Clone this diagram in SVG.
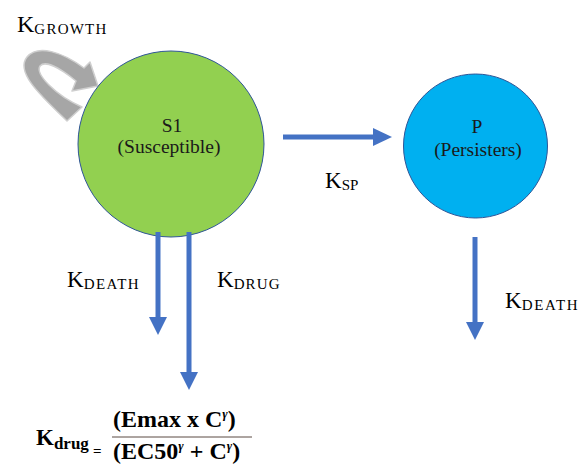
<svg xmlns="http://www.w3.org/2000/svg" width="579" height="465" viewBox="0 0 579 465">
<style>
.lbl{font-family:"Liberation Serif","Times New Roman",serif;fill:#000}
.node{font-family:"Liberation Serif","Times New Roman",serif;font-size:19.5px;fill:#1a1a1a;text-anchor:middle}
.shaft{stroke:#4472c4;stroke-width:5;fill:none}
.head{fill:#4472c4}
.f{font-family:"Liberation Serif","Times New Roman",serif;font-weight:bold;fill:#000}
</style>
<rect width="579" height="465" fill="#fff"/>
<g id="growth-arrow">
<path d="M67,121 C40,95 15,72 27,57 C38,44 62,52 84,68 L90,62 L98,86 L72,91 L76,81 C60,68 45,60 40,66 C35,74 55,95 82,107 Z" fill="#a6a6a6" stroke="#cfcfcf" stroke-width="1.5" stroke-linejoin="round"/>
</g>
<g id="S1">
<circle cx="171" cy="144" r="93" fill="#92d050" stroke="#2f5597" stroke-width="1"/>
<text class="node" x="172" y="132">S1</text>
<text class="node" x="169" y="153">(Susceptible)</text>
</g>
<g id="P">
<circle cx="475.5" cy="146" r="72" fill="#00b0f0" stroke="#2f5597" stroke-width="1"/>
<text class="node" x="477" y="133">P</text>
<text class="node" x="478" y="156">(Persisters)</text>
</g>
<g id="connectors">
<line class="shaft" x1="283" y1="137" x2="375" y2="137"/>
<polygon class="head" points="373,128 392,137 373,146"/>
<line class="shaft" x1="158" y1="232" x2="158" y2="319"/>
<polygon class="head" points="149,317 167,317 158,335"/>
<line class="shaft" x1="189" y1="232" x2="189" y2="374"/>
<polygon class="head" points="180,372 198,372 189,390"/>
<line class="shaft" x1="475" y1="237" x2="475" y2="324"/>
<polygon class="head" points="466,322 484,322 475,340"/>
</g>
<g id="labels">
<text class="lbl" x="17" y="32"><tspan font-size="24">K</tspan><tspan font-size="15" dy="2" textLength="72" lengthAdjust="spacing">GROWTH</tspan></text>
<text class="lbl" x="325" y="188"><tspan font-size="23">K</tspan><tspan font-size="15" dy="2">SP</tspan></text>
<text class="lbl" x="67" y="287"><tspan font-size="23">K</tspan><tspan font-size="15" dy="2" textLength="55" lengthAdjust="spacing">DEATH</tspan></text>
<text class="lbl" x="217" y="287"><tspan font-size="23">K</tspan><tspan font-size="15" dy="2" textLength="46" lengthAdjust="spacing">DRUG</tspan></text>
<text class="lbl" x="505" y="308"><tspan font-size="23">K</tspan><tspan font-size="15" dy="2" textLength="56" lengthAdjust="spacing">DEATH</tspan></text>
</g>
<g id="formula">
<text class="f" x="36" y="445"><tspan font-size="23">K</tspan><tspan font-size="17" dy="4">drug</tspan></text>
<text class="f" x="93" y="456" font-size="15" font-weight="normal">=</text>
<text class="f" x="113" y="427" font-size="24">(Emax x C<tspan font-size="13" dy="-9" font-style="italic">γ</tspan><tspan dy="9">)</tspan></text>
<line x1="112" y1="437" x2="252" y2="437" stroke="#5a4a42" stroke-width="1"/>
<text class="f" x="113" y="459" font-size="24">(EC50<tspan font-size="13" dy="-9" font-style="italic">γ</tspan><tspan dy="9"> + C</tspan><tspan font-size="13" dy="-9" font-style="italic">γ</tspan><tspan dy="9">)</tspan></text>
</g>
</svg>
